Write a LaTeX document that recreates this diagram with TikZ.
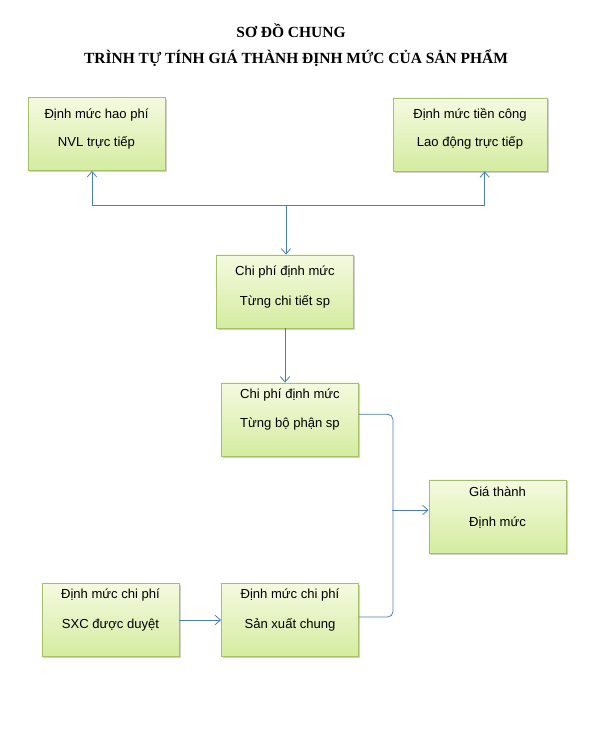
\documentclass[tikz,border=0pt]{standalone}
\usepackage{fontspec}
\setmainfont{Liberation Serif}
\setsansfont{Liberation Sans}
\usetikzlibrary{arrows.meta,shadows}

\definecolor{linkblue}{RGB}{74,126,187}
\definecolor{cellborder}{RGB}{165,192,105}
\definecolor{celltop}{RGB}{245,250,224}
\definecolor{cellbottom}{RGB}{212,236,160}

\tikzset{
  cell/.style={draw=cellborder, top color=celltop, bottom color=cellbottom,
    minimum width=103pt, minimum height=55pt, inner sep=0pt,
    drop shadow={shadow xshift=1.2pt, shadow yshift=-1.2pt, opacity=0.45, fill=black!40}},
  txt/.style={font=\sffamily\fontsize{9.8}{12}\selectfont, inner sep=0pt, text height=7pt, text depth=2pt},
  heading/.style={font=\bfseries\fontsize{11.6}{13}\selectfont, inner sep=0pt},
  link/.style={draw=linkblue, line width=0.6pt, -{Straight Barb[length=4pt,width=7pt]}},
}

\begin{document}
\begin{tikzpicture}[x=0.75pt, y=-0.75pt]
    \useasboundingbox (0,0) rectangle (596,729);

    % Title
    \node[heading] (title1) at (291,31) {SƠ ĐỒ CHUNG};
    \node[heading] (title2) at (296,58) {TRÌNH TỰ TÍNH GIÁ THÀNH ĐỊNH MỨC CỦA SẢN PHẨM};

    % Top row
    \node[cell] (nvl) at (96.5,134) {};
    \node[txt] (nvl1) at (96.5,115) {Định mức hao phí};
    \node[txt] (nvl2) at (96.5,143) {NVL trực tiếp};

    \node[cell, minimum width=115.5pt] (ld) at (470,134.5) {};
    \node[txt] (ld1) at (470,115) {Định mức tiền công};
    \node[txt] (ld2) at (470,143) {Lao động trực tiếp};

    % Middle column
    \node[cell] (ct) at (285,291.5) {};
    \node[txt] (ct1) at (285,272) {Chi phí định mức};
    \node[txt] (ct2) at (285,302) {Từng chi tiết sp};

    \node[cell] (bp) at (290,419.5) {};
    \node[txt] (bp1) at (290,395) {Chi phí định mức};
    \node[txt] (bp2) at (290,424) {Từng bộ phận sp};

    % Result
    \node[cell] (gt) at (497.5,516.5) {};
    \node[txt] (gt1) at (497.5,493) {Giá thành};
    \node[txt] (gt2) at (497.5,523) {Định mức};

    % Bottom row
    \node[cell] (dm) at (110.5,620) {};
    \node[txt] (dm1) at (110.5,595) {Định mức chi phí};
    \node[txt] (dm2) at (110.5,625) {SXC  được duyệt};

    \node[cell] (sx) at (290,620) {};
    \node[txt] (sx1) at (290,595) {Định mức chi phí};
    \node[txt] (sx2) at (290,625) {Sản xuất chung};

    % Split above the first cost box
    \coordinate (split) at (286,205);
    \draw[link] (split) -- (split |- ct.north);
    \draw[link] (split) -| ([xshift=-3.4pt]nvl.south);
    \draw[link] (split) -| ([xshift=11pt]ld.south);

    \draw[link] (ct.south) -- (ct.south |- bp.north);
    \draw[link] (dm.east) -- (sx.west);

    % Bracket into the result
    \draw[link, -, rounded corners=4pt] ([yshift=4pt]bp.east) -- ++(34,0) |- ([yshift=2.2pt]sx.east);
    \coordinate (join) at (392,510);
    \draw[link] (join) -- (join -| gt.west);
\end{tikzpicture}
\end{document}
